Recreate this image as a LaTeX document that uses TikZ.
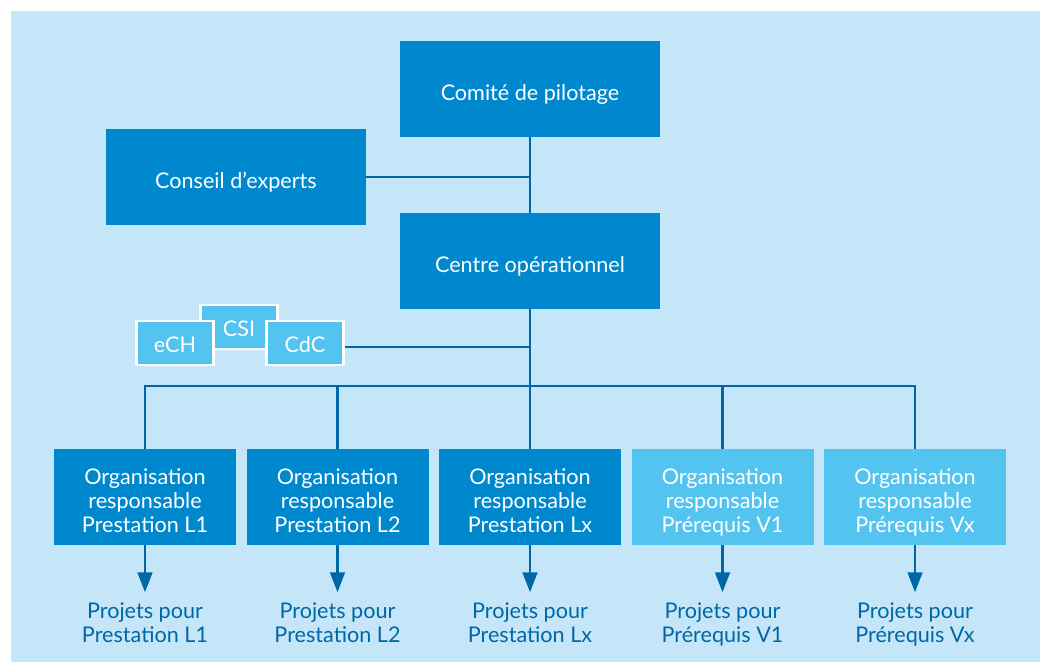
\documentclass[tikz,border=0pt]{standalone}
\usepackage{fontspec}
\setmainfont{Lato}
\usetikzlibrary{arrows.meta}
\definecolor{bgblue}{HTML}{C5E6F8}
\definecolor{darkbox}{HTML}{0088CF}
\definecolor{lightbox}{HTML}{53C3EF}
\definecolor{linkblue}{HTML}{0067A6}
\newcommand{\topstrut}{\rule{0pt}{21pt}}
\newcommand{\botstrut}{\rule[-3.5pt]{0pt}{3.5pt}}
\tikzset{
  bigbox/.style={fill=darkbox, text=white, minimum width=195pt, minimum height=72pt, inner sep=0pt,
    text height=18pt, text depth=1pt},
  orgbox/.style={fill=#1, text=white, minimum width=136.5pt, minimum height=72pt, inner sep=0pt, align=center},
  tagbox/.style={fill=lightbox, draw=white, line width=2.2pt, text=white, minimum width=58pt, minimum height=33pt, inner sep=0pt,
    text height=14pt, text depth=0pt},
  projtext/.style={text=linkblue, align=center},
  conn/.style={draw=linkblue, line width=2pt},
}
\begin{document}
\begin{tikzpicture}[x=0.75pt, y=-0.75pt, font=\fontsize{16.2}{18}\selectfont]
    \def\x{192.5}
    \useasboundingbox (0,0) rectangle (1045,662);
    \fill[bgblue] (11,11) rectangle (1040,662);
    % upper part
    \node[bigbox] (A0_0) at (530,89) {Comité de pilotage};
    \node[bigbox] (A0_1) at (236,177) {Conseil d'experts};
    \node[bigbox] (A1_0) at (530,261) {Centre opérationnel};
    \node[tagbox] (T1) at (239,327) {CSI};
    \node[tagbox] (T0) at (175,343) {eCH};
    \node[tagbox] (T2) at (305,343) {CdC};
    \coordinate (C0) at (530,177);
    \coordinate (C1) at (530,347);
    \coordinate (B) at (530,386);
    \path[conn] (A0_0) edge (A1_0);
    \path[conn] (A0_1) edge (C0);
    \path[conn] (T2.east |- C1) edge (C1);
    \path[conn] (A1_0) edge (B);
    % organisations
    \node[orgbox=darkbox] (A2_0) at (145+0*\x,497) {\topstrut Organisation\\responsable\\Prestation L1\botstrut};
    \node[orgbox=darkbox] (A2_1) at (145+1*\x,497) {\topstrut Organisation\\responsable\\Prestation L2\botstrut};
    \node[orgbox=darkbox] (A2_2) at (145+2*\x,497) {\topstrut Organisation\\responsable\\Prestation Lx\botstrut};
    \node[orgbox=lightbox] (A2_3) at (145+3*\x,497) {\topstrut Organisation\\responsable\\Prérequis V1\botstrut};
    \node[orgbox=lightbox] (A2_4) at (145+4*\x,497) {\topstrut Organisation\\responsable\\Prérequis Vx\botstrut};
    % projets
    \node[projtext] (A3_0) at (145+0*\x,626) {\strut Projets pour\\Prestation L1\strut};
    \node[projtext] (A3_1) at (145+1*\x,626) {\strut Projets pour\\Prestation L2\strut};
    \node[projtext] (A3_2) at (145+2*\x,626) {\strut Projets pour\\Prestation Lx\strut};
    \node[projtext] (A3_3) at (145+3*\x,626) {\strut Projets pour\\Prérequis V1\strut};
    \node[projtext] (A3_4) at (145+4*\x,626) {\strut Projets pour\\Prérequis Vx\strut};
    \draw[conn] (B) -| (A2_0);
    \draw[conn] (B) -| (A2_1);
    \draw[conn] (B) -| (A2_2);
    \draw[conn] (B) -| (A2_3);
    \draw[conn] (B) -| (A2_4);
    \foreach \i in {0,...,4}
      \draw[conn, -{Triangle[length=15pt, width=11pt]}] (A2_\i.south) -- ++(0,47);
\end{tikzpicture}
\end{document}
